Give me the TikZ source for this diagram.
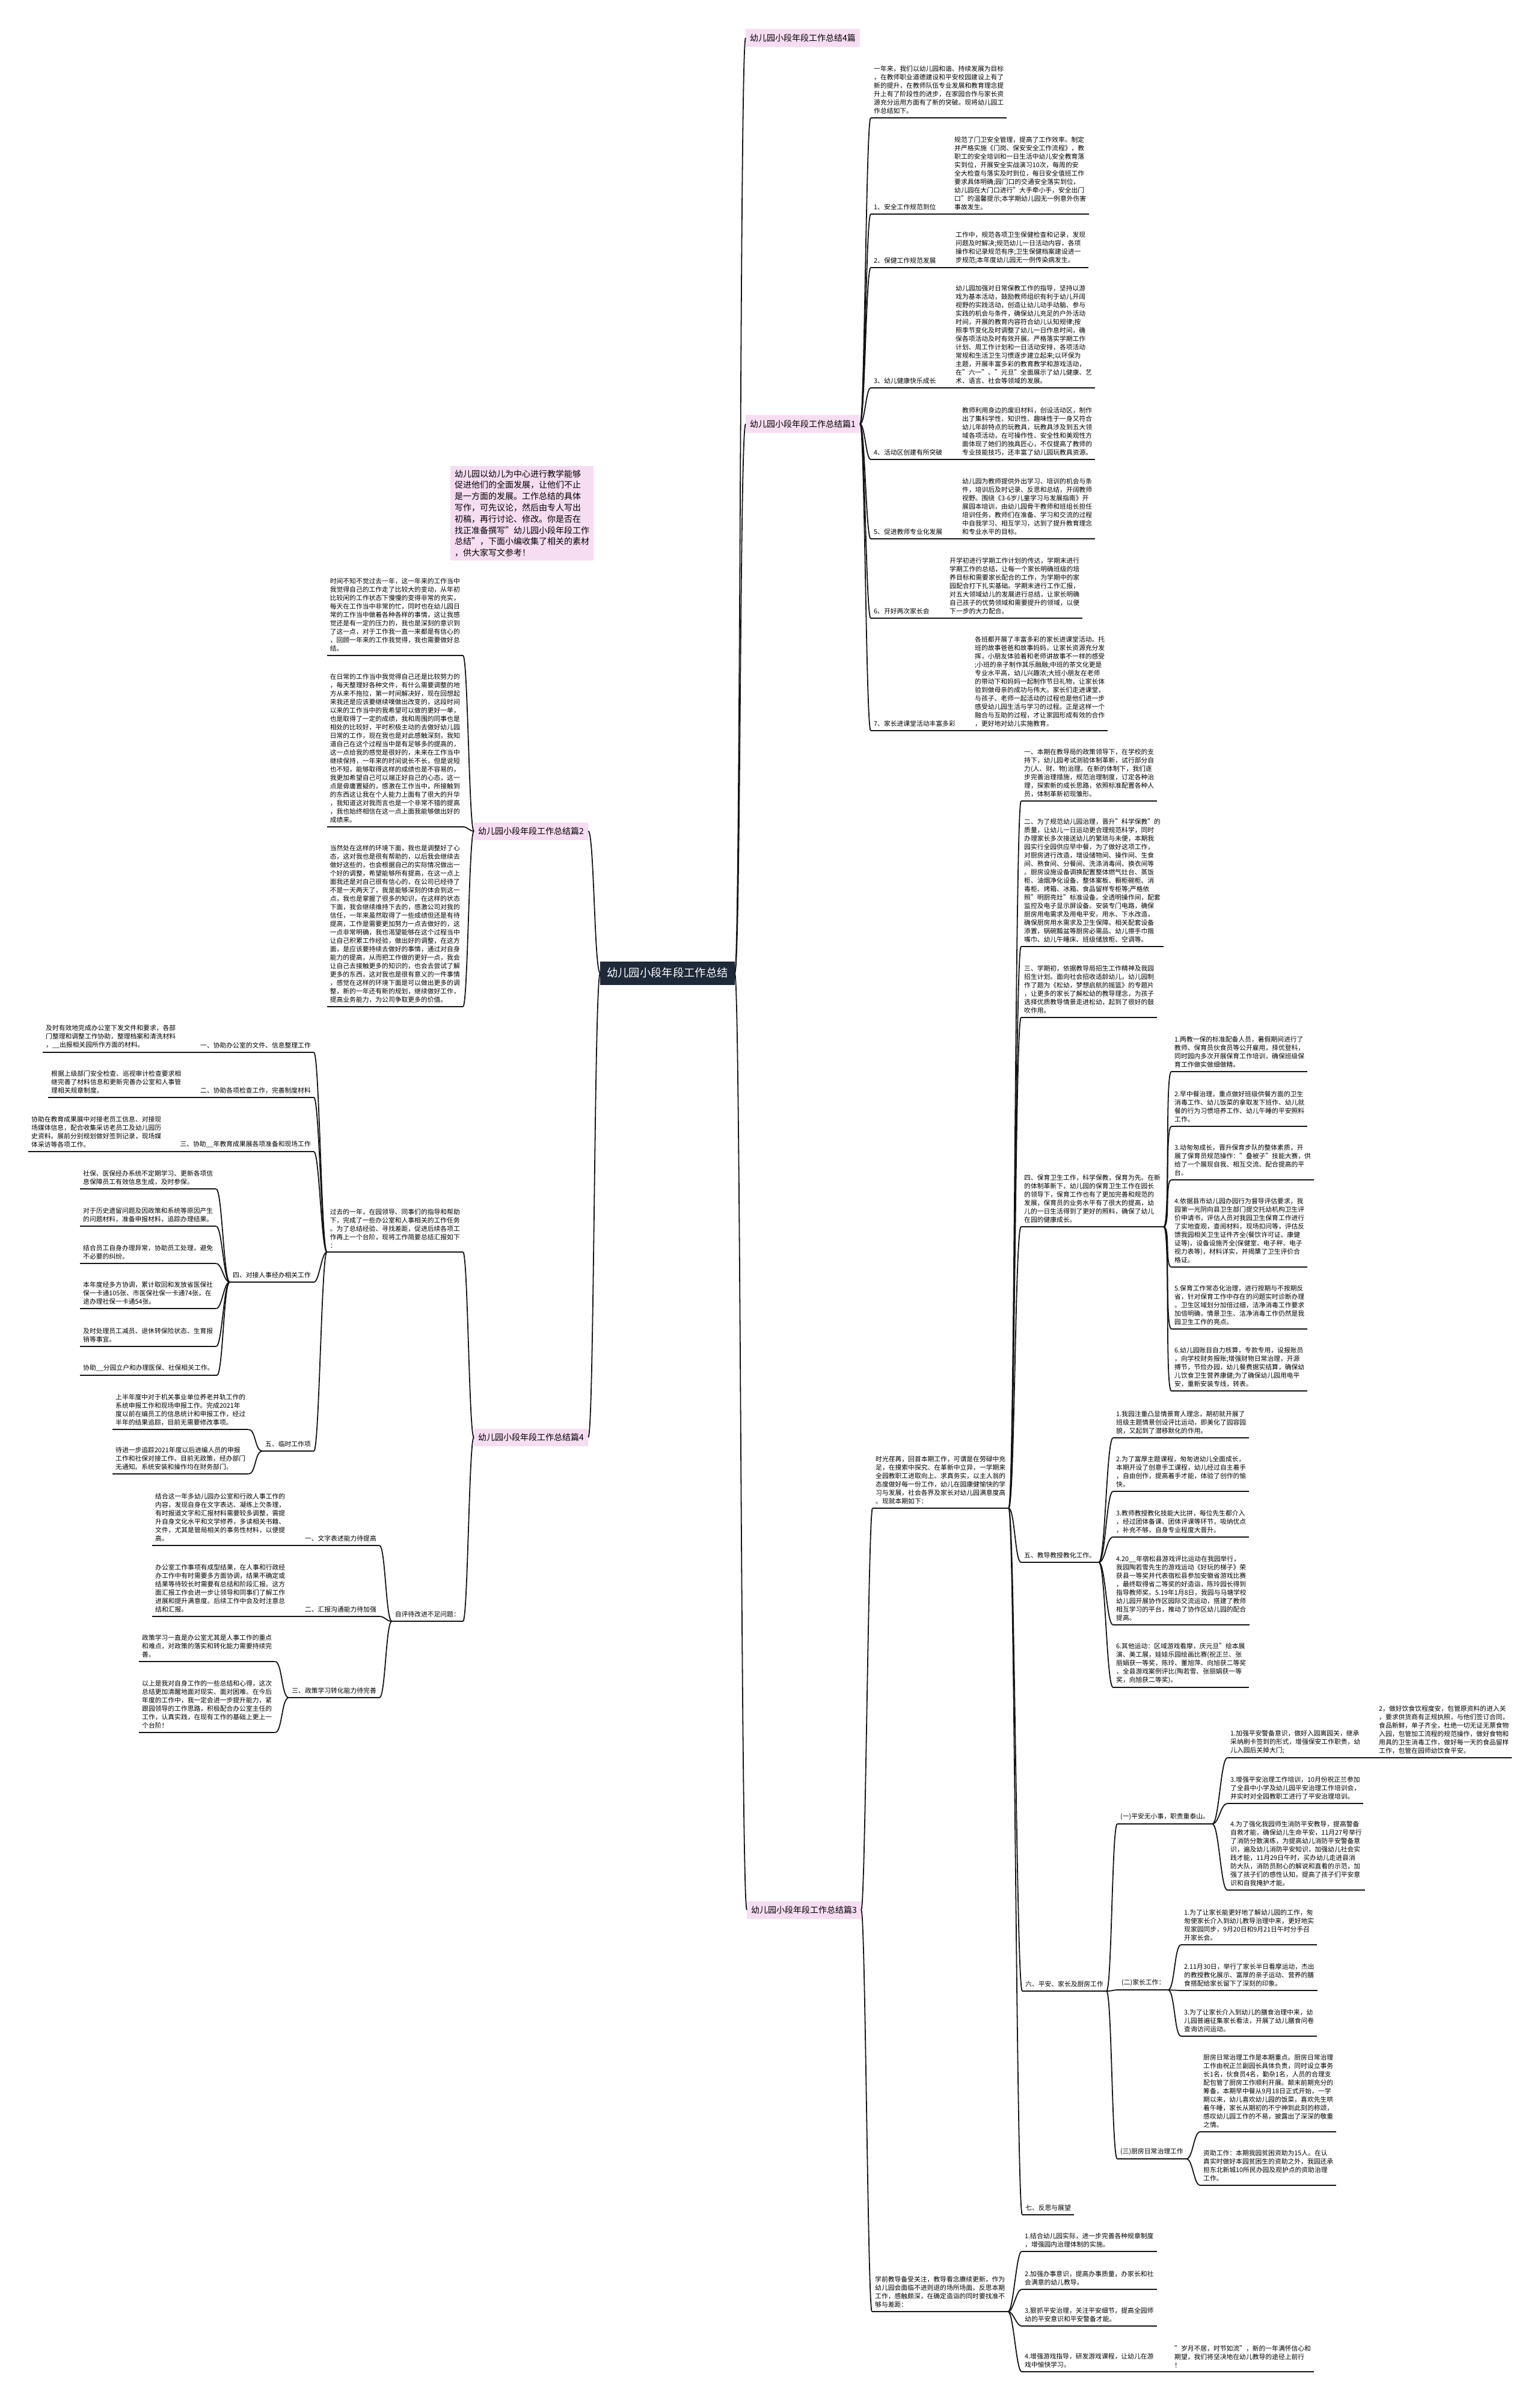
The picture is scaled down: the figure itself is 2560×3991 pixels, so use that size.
\documentclass[tikz,border=0pt]{standalone}
\usepackage{fontspec}
\setmainfont{Noto Sans CJK SC}
\usepackage{xcolor}
\usepackage{tikz}
\usetikzlibrary{positioning}
\definecolor{rootnavy}{RGB}{30,41,57}
\definecolor{branchpink}{RGB}{246,221,241}
\definecolor{wireblack}{RGB}{20,20,24}
\tikzset{
  rootbox/.style={rectangle, fill=rootnavy, text=white, font=\fontsize{18.3}{22}\selectfont, inner xsep=11pt, inner ysep=11pt},
  branchbox/.style={rectangle, fill=branchpink, font=\fontsize{14}{17}\selectfont, inner xsep=7pt, inner ysep=8pt},
  notebox/.style={rectangle, fill=branchpink, font=\fontsize{14}{18.8}\selectfont, align=left, inner xsep=7pt, inner ysep=6pt, anchor=north west},
  leaf/.style={font=\fontsize{10.8}{14}\selectfont, align=left, inner xsep=5pt, inner ysep=6.5pt, anchor=south west},
  leafl/.style={leaf, anchor=south east},
  wire/.style={draw=wireblack, line width=1.8pt}
}

\begin{document}
\begin{tikzpicture}[x=1pt, y=-1pt]
\fill[white] (0,0) rectangle (2560,3991);
\useasboundingbox (0,0) rectangle (2560,3991);

% root and the five branches
\node[rootbox] (root) at (1110,1618) {幼儿园小段年段工作总结};
\node[branchbox, anchor=west] (bq) at (1240,63) {幼儿园小段年段工作总结4篇};
\node[branchbox, anchor=west] (ba) at (1240,705) {幼儿园小段年段工作总结篇1};
\node[branchbox, anchor=west] (bc) at (1242,3176) {幼儿园小段年段工作总结篇3};
\node[branchbox, anchor=west] (bb) at (788,1382) {幼儿园小段年段工作总结篇2};
\node[branchbox, anchor=west] (bd) at (788,2390) {幼儿园小段年段工作总结篇4};

\node[notebox] (note) at (749,775) {幼儿园以幼儿为中心进行教学能够\\促进他们的全面发展，让他们不止\\是一方面的发展。工作总结的具体\\写作，可先议论，然后由专人写出\\初稿，再行讨论、修改。你是否在\\找正准备撰写"幼儿园小段年段工作\\总结"，下面小编收集了相关的素材\\，供大家写文参考！};

% ---- 篇1
\node[leaf] (a0) at (1448,196) {一年来，我们以幼儿园和谐、持续发展为目标\\，在教师职业道德建设和平安校园建设上有了\\新的提升，在教师队伍专业发展和教育理念提\\升上有了阶段性的进步，在家园合作与家长资\\源充分运用方面有了新的突破。现将幼儿园工\\作总结如下。};
\node[leaf] (a1l) at (1448,356) {1、安全工作规范到位};
\node[leaf] (a1) at (1582,356) {规范了门卫安全管理，提高了工作效率。制定\\并严格实施《门岗、保安安全工作流程》，教\\职工的安全培训和一日生活中幼儿安全教育落\\实到位，开展安全实战演习10次，每周的安\\全大检查与落实及时到位，每日安全值班工作\\要求具体明确;园门口的交通安全落实到位，\\幼儿园在大门口进行"大手牵小手，安全出门\\口"的温馨提示;本学期幼儿园无一例意外伤害\\事故发生。};
\node[leaf] (a2l) at (1448,445) {2、保健工作规范发展};
\node[leaf] (a2) at (1584,445) {工作中，规范各项卫生保健检查和记录，发现\\问题及时解决;规范幼儿一日活动内容，各项\\操作和记录规范有序;卫生保健档案建设进一\\步规范;本年度幼儿园无一例传染病发生。};
\node[leaf] (a3l) at (1448,645) {3、幼儿健康快乐成长};
\node[leaf] (a3) at (1584,645) {幼儿园加强对日常保教工作的指导，坚持以游\\戏为基本活动，鼓励教师组织有利于幼儿开阔\\视野的实践活动，创造让幼儿动手动脑、参与\\实践的机会与条件，确保幼儿充足的户外活动\\时间，开展的教育内容符合幼儿认知规律;按\\照季节变化及时调整了幼儿一日作息时间，确\\保各项活动及时有效开展。严格落实学期工作\\计划、周工作计划和一日活动安排，各项活动\\常规和生活卫生习惯逐步建立起来;以环保为\\主题，开展丰富多彩的教育教学和游戏活动，\\在"六一"、"元旦"全面展示了幼儿健康、艺\\术、语言、社会等领域的发展。};
\node[leaf] (a4l) at (1448,764) {4、活动区创建有所突破};
\node[leaf] (a4) at (1595,764) {教师利用身边的废旧材料，创设活动区，制作\\出了集科学性、知识性、趣味性于一身又符合\\幼儿年龄特点的玩教具，玩教具涉及到五大领\\域各项活动，在可操作性、安全性和美观性方\\面体现了她们的独具匠心，不仅提高了教师的\\专业技能技巧，还丰富了幼儿园玩教具资源。};
\node[leaf] (a5l) at (1448,896) {5、促进教师专业化发展};
\node[leaf] (a5) at (1595,896) {幼儿园为教师提供外出学习、培训的机会与条\\件，培训后及时记录、反思和总结，开阔教师\\视野。围绕《3-6岁儿童学习与发展指南》开\\展园本培训，由幼儿园骨干教师和班组长担任\\培训任务，教师们在准备、学习和交流的过程\\中自我学习、相互学习，达到了提升教育理念\\和专业水平的目标。};
\node[leaf] (a6l) at (1448,1028) {6、开好两次家长会};
\node[leaf] (a6) at (1574,1028) {开学初进行学期工作计划的传达，学期末进行\\学期工作的总结，让每一个家长明确班级的培\\养目标和需要家长配合的工作，为学期中的家\\园配合打下扎实基础。学期末进行工作汇报，\\对五大领域幼儿的发展进行总结，让家长明确\\自己孩子的优势领域和需要提升的领域，以便\\下一步的大力配合。};
\node[leaf] (a7l) at (1448,1215) {7、家长进课堂活动丰富多彩};
\node[leaf] (a7) at (1616,1215) {各班都开展了丰富多彩的家长进课堂活动。托\\班的故事爸爸和故事妈妈，让家长资源充分发\\挥，小朋友体验着和老师讲故事不一样的感受\\;小班的亲子制作其乐融融;中班的茶文化更是\\专业水平高，幼儿兴趣浓;大班小朋友在老师\\的带动下和妈妈一起制作节日礼物，让家长体\\验到做母亲的成功与伟大。家长们走进课堂，\\与孩子、老师一起活动的过程也是他们进一步\\感受幼儿园生活与学习的过程。正是这样一个\\融合与互助的过程，才让家园形成有效的合作\\，更好地对幼儿实施教育。};

% ---- 篇2
\node[leafl] (b1) at (770,1090) {时间不知不觉过去一年，这一年来的工作当中\\我觉得自己的工作走了比较大的变动，从年初\\比较闲的工作状态下慢慢的变得非常的充实，\\每天在工作当中非常的忙，同时也在幼儿园日\\常的工作当中做着各种各样的事情，这让我感\\觉还是有一定的压力的，我也是深刻的意识到\\了这一点，对于工作我一直一来都是有信心的\\，回顾一年来的工作我觉得，我也需要做好总\\结。};
\node[leafl] (b2) at (770,1375) {在日常的工作当中我觉得自己还是比较努力的\\，每天整理好各种文件，有什么需要调整的地\\方从来不拖拉，第一时间解决好，现在回想起\\来我还是应该要继续噗做出改变的，这段时间\\以来的工作当中的我希望可以做的更好一单，\\也是取得了一定的成绩，我和周围的同事也是\\相处的比较好，平时积极主动的去做好幼儿园\\日常的工作，现在我也是对此感触深刻，我知\\道自己在这个过程当中是有足够多的提高的，\\这一点给我的感觉是很好的，未来在工作当中\\继续保持，一年来的时间说长不长，但是说短\\也不短，能够取得这样的成绩也是不容易的，\\我更加希望自己可以端正好自己的心态，这一\\点是毋庸置疑的，感激在工作当中，所接触到\\的东西这让我在个人能力上面有了很大的升华\\，我知道这对我而言也是一个非常不错的提高\\，我也始终相信在这一点上面我能够做出好的\\成绩来。};
\node[leafl] (b3) at (770,1674) {当然处在这样的环境下面，我也是调整好了心\\态，这对我也是很有帮助的，以后我会继续去\\做好这些的，也会根据自己的实际情况做出一\\个好的调整，希望能够所有提高，在这一点上\\面我还是对自己很有信心的，在公司已经待了\\不是一天两天了，我是能够深刻的体会到这一\\点，我也是掌握了很多的知识，在这样的状态\\下面，我会继续维持下去的，感激公司对我的\\信任，一年来虽然取得了一些成绩但还是有待\\提高，工作是需要更加努力一点去做好的，这\\一点非常明确，我也渴望能够在这个过程当中\\让自己积累工作经验，做出好的调整，在这方\\面，是应该要持续去做好的事情，通过对自身\\能力的提高，从而把工作做的更好一点，我会\\让自己去接触更多的知识的，也会去尝试了解\\更多的东西，这对我也是很有意义的一件事情\\，感觉在这样的环境下面是可以做出更多的调\\整，新的一年还有新的规划，继续做好工作，\\提高业务能力，为公司争取更多的价值。};

% ---- 篇4
\node[leafl] (d0) at (770,2082) {过去的一年，在园领导、同事们的指导和帮助\\下，完成了一些办公室和人事相关的工作任务\\。为了总结经验、寻找差距，促进后续各项工\\作再上一个台阶，现将工作简要总结汇报如下\\：};
\node[leafl] (d1l) at (522,1750) {一、协助办公室的文件、信息整理工作};
\node[leaf] (d1) at (71,1750) {及时有效地完成办公室下发文件和要求，各部\\门整理和调整工作协助，整理档案和清洗材料\\，\_\_出报相关园所作方面的材料。};
\node[leafl] (d2l) at (522,1825) {二、协助各项检查工作，完善制度材料};
\node[leaf] (d2) at (80,1825) {根据上级部门安全检查、巡视审计检查要求相\\继完善了材料信息和更新完善办公室和人事管\\理相关规章制度。};
\node[leafl] (d3l) at (522,1915) {三、协助\_\_年教育成果展各项准备和现场工作};
\node[leaf] (d3) at (47,1915) {协助在教育成果展中对接老员工信息、对接现\\场媒体信息，配合收集采访老员工及幼儿园历\\史资料。展前分别规划做好签到记录，现场媒\\体采访等各项工作。};
\node[leafl] (d4l) at (522,2132) {四、对接人事经办相关工作};
\node[leaf] (d4a) at (133,1977) {社保、医保经办系统不定期学习、更新各项信\\息保障员工有效信息生成，及时参保。};
\node[leaf] (d4b) at (133,2039) {对于历史遗留问题及因政策和系统等原因产生\\的问题材料，准备申报材料，追踪办理结果。};
\node[leaf] (d4c) at (133,2101) {结合员工自身办理异常，协助员工处理，避免\\不必要的纠纷。};
\node[leaf] (d4d) at (133,2176) {本年度经多方协调，累计取回和发放省医保社\\保一卡通105张、市医保社保一卡通74张，在\\途办理社保一卡通54张。};
\node[leaf] (d4e) at (133,2239) {及时处理员工减员、退休转保险状态、生育报\\销等事宜。};
\node[leaf] (d4f) at (133,2287) {协助\_\_分园立户和办理医保、社保相关工作。};
\node[leafl] (d5l) at (522,2413) {五、临时工作项};
\node[leaf] (d5a) at (187,2377) {上半年度中对于机关事业单位养老并轨工作的\\系统申报工作和现场申报工作。完成2021年\\度以前在编员工的信息统计和申报工作，经过\\半年的结果追踪，目前无需要修改事项。};
\node[leaf] (d5b) at (187,2451) {待进一步追踪2021年度以后进编人员的申报\\工作和社保对接工作。目前无政策，经办部门\\无通知。系统安装和操作均在财务部门。};
\node[leafl] (dq) at (770,2696) {自评待改进不足问题：};
\node[leafl] (dq1l) at (631,2570) {一、文字表述能力待提高};
\node[leaf] (dq1) at (253,2570) {结合这一年多幼儿园办公室和行政人事工作的\\内容，发现自身在文字表达、凝练上欠条理，\\有时报道文字和汇报材料需要较多调整，需提\\升自身文化水平和文学修养，多读相关书籍、\\文件，尤其是管局相关的事务性材料，以便提\\高。};
\node[leafl] (dq2l) at (631,2688) {二、汇报沟通能力待加强};
\node[leaf] (dq2) at (253,2688) {办公室工作事项有成型结果，在人事和行政经\\办工作中有时需要多方面协调，结果不确定或\\结果等待较长时需要有总结和阶段汇报。这方\\面汇报工作会进一步让领导和同事们了解工作\\进展和提升满意度。后续工作中会及时注意总\\结和汇报。};
\node[leafl] (dq3l) at (631,2823) {三、政策学习转化能力待完善};
\node[leaf] (dq3a) at (231,2763) {政策学习一直是办公室尤其是人事工作的重点\\和难点，对政策的落实和转化能力需要持续完\\善。};
\node[leaf] (dq3b) at (231,2881) {以上是我对自身工作的一些总结和心得，这次\\总结更加清醒地面对现实、面对困难。在今后\\年度的工作中，我一定会进一步提升能力，紧\\跟园领导的工作思路，积极配合办公室主任的\\工作，认真实践，在现有工作的基础上更上一\\个台阶！};

% ---- 篇3
\node[leaf] (c0) at (1451,2508) {时光荏苒，回首本期工作，可谓是在劳碌中充\\足，在摸索中探究、在革新中立异，一学期来\\全园教职工进取向上、求真务实，以主人翁的\\态度做好每一份工作，幼儿在园康健愉快的学\\习与发展，社会各界及家长对幼儿园满意度高\\。现就本期如下：};
\node[leaf] (c1) at (1698,1332) {一、本期在教导局的政策领导下，在学校的支\\持下，幼儿园考试测验体制革新，试行部分自\\力(人、财、物)治理。在新的体制下，我们逐\\步完善治理措施，规范治理制度，订定各种治\\理，探索新的成长思路，依照标准配置各种人\\员，体制革新初现雏形。};
\node[leaf] (c2) at (1698,1574) {二、为了规范幼儿园治理，晋升"科学保教"的\\质量，让幼儿一日运动更合理规范科学，同时\\办理家长多次接送幼儿的繁琐与未便，本期我\\园实行全园供应早中餐，为了做好这项工作，\\对厨房进行改造，增设储物间、操作间、生食\\间、熟食间、分餐间、洗涤消毒间、换衣间等\\。厨房设施设备调换配置整体燃气灶台、蒸饭\\柜、油烟净化设备、整体案板、橱柜碗柜、消\\毒柜、烤箱、冰箱、食品留样专柜等;严格依\\照"明厨亮灶"标准设备。全透明操作间，配套\\监控及电子显示屏设备。安装专门电路，确保\\厨房用电需求及用电平安。用水、下水改造，\\确保厨房用水需求及卫生保障。相关配套设备\\添置，锅碗瓢盆等厨房必需品、幼儿擦手巾揩\\嘴巾、幼儿午睡床、班级储放柜、空调等。};
\node[leaf] (c3) at (1698,1692) {三、学期初，依据教导局招生工作精神及我园\\招生计划。面向社会招收适龄幼儿，幼儿园制\\作了题为《松幼，梦想启航的摇篮》的专题片\\，让更多的家长了解松幼的教导理念，为孩子\\选择优质教导情景走进松幼，起到了很好的鼓\\吹作用。};
\node[leaf] (c4) at (1698,2040) {四、保育卫生工作，科学保教，保育为先。在新\\的体制革新下，幼儿园的保育卫生工作在园长\\的领导下，保育工作也有了更加完善和规范的\\发展，保育员的业务水平有了很大的提高，幼\\儿的一日生活得到了更好的照料，确保了幼儿\\在园的健康成长。};
\node[leaf] (c4a) at (1948,1782) {1.两教一保的标准配备人员，暑假期间进行了\\教师、保育员伙食员等公开雇用，择优登科，\\同时园内多次开展保育工作培训，确保班级保\\育工作做实做细做精。};
\node[leaf] (c4b) at (1948,1873) {2.早中餐治理，重点做好班级供餐方面的卫生\\消毒工作、幼儿饭菜的拿取发下班作、幼儿就\\餐的行为习惯培养工作、幼儿午睡的平安照料\\工作。};
\node[leaf] (c4c) at (1948,1962) {3.动匆匆成长，晋升保育步队的整体素质，开\\展了保育员规范操作："叠被子"技能大赛，供\\给了一个展现自我、相互交流、配合提高的平\\台。};
\node[leaf] (c4d) at (1948,2107) {4.依据县市幼儿园办园行为督导评估要求，我\\园第一光阴向县卫生部门提交托幼机构卫生评\\价申请书，评估人员对我园卫生保育工作进行\\了实地查观，查阅材料，现场扣问等，评估反\\馈我园相关卫生证件齐全(餐饮许可证、康健\\证等)，设备设施齐全(保健室、电子秤、电子\\视力表等)，材料详实，并揭橥了卫生评价合\\格证。};
\node[leaf] (c4e) at (1948,2210) {5.保育工作常态化治理，进行按期与不按期反\\省，针对保育工作中存在的问题实时诊断办理\\。卫生区域划分加倍过细，洁净消毒工作要求\\加倍明确，情景卫生、洁净消毒工作仍然是我\\园卫生工作的亮点。};
\node[leaf] (c4f) at (1948,2313) {6.幼儿园账目自力核算，专款专用，设报账员\\，向学校财务报账;增强财物日常治理，开源\\搏节，节俭办园，幼儿餐费据实结算，确保幼\\儿饮食卫生营养康健;为了确保幼儿园用电平\\安，重新安装专线，转表。};
\node[leaf] (c5l) at (1698,2598) {五、教导教授教化工作。};
\node[leaf] (c5a) at (1851,2391) {1.我园注重凸显情景育人理念，期初就开展了\\班级主题情景创设评比运动，即美化了园容园\\貌，又起到了潜移默化的作用。};
\node[leaf] (c5b) at (1851,2480) {2.为了富厚主题课程，匆匆进幼儿全面成长，\\本期开设了创意手工课程，幼儿经过自主着手\\，自由创作，提高着手才能，体验了创作的愉\\快。};
\node[leaf] (c5c) at (1851,2556) {3.教师教授教化技能大比拼，每位先生都介入\\，经过团体备课、团体评课等环节，吸纳优点\\，补充不够，自身专业程度大晋升。};
\node[leaf] (c5d) at (1851,2702) {4.20\_\_年宿松县游戏评比运动在我园举行，\\我园陶若雪先生的游戏运动《好玩的梯子》荣\\获县一等奖并代表宿松县参加安徽省游戏比赛\\，最终取得省二等奖的好造诣，陈玲园长得到\\指导教师奖。5.19年1月8日，我园与马塘学校\\幼儿园开展协作区园际交流运动，搭建了教师\\相互学习的平台，推动了协作区幼儿园的配合\\提高。};
\node[leaf] (c5e) at (1851,2806) {6.其他运动：区域游戏看摩，庆元旦"绘本展\\演、美工展，娃娃乐园绘画比赛(祝正兰、张\\丽娟获一等奖，陈玲、董旭萍、向旭获二等奖\\，全县游戏案例评比(陶若雪、张丽娟获一等\\奖，向旭获二等奖)。};
\node[leaf] (c6l) at (1700,3311) {六、平安、家长及厨房工作};
\node[leaf] (c61l) at (1858,3033) {(一)平安无小事，职责重泰山。};
\node[leaf] (c61a) at (2041,2923) {1.加强平安警备意识，做好入园离园关，继承\\采纳刷卡签到的形式，增强保安工作职责，幼\\儿入园后关掉大门;};
\node[leaf] (c61x) at (2288,2923) {2，做好饮食饮程度安，包管原资料的进入关\\，要求供货商有正规执照，与他们签订合同，\\食品新鲜，单子齐全，杜绝一切无证无票食物\\入园，包管加工流程的规范操作，做好食物和\\用具的卫生消毒工作，做好每一天的食品留样\\工作，包管在园师幼饮食平安。};
\node[leaf] (c61b) at (2041,2999) {3.增强平安治理工作培训，10月份祝正兰参加\\了全县中小学及幼儿园平安治理工作培训会，\\并实时对全园教职工进行了平安治理培训。};
\node[leaf] (c61c) at (2041,3143) {4.为了强化我园师生消防平安教导，提高警备\\自救才能，确保幼儿生命平安，11月27号举行\\了消防分散演练，为提高幼儿消防平安警备意\\识，遍及幼儿消防平安知识，加强幼儿社会实\\践才能，11月29日午时，买办幼儿走进县消\\防大队，消防员耐心的解说和直看的示范，加\\强了孩子们的感性认知，提高了孩子们平安意\\识和自我掩护才能。};
\node[leaf] (c62l) at (1860,3309) {(二)家长工作：};
\node[leaf] (c62a) at (1964,3234) {1.为了让家长能更好地了解幼儿园的工作，匆\\匆使家长介入到幼儿教导治理中来，更好地实\\现家园同步，9月20日和9月21日午时分手召\\开家长会。};
\node[leaf] (c62b) at (1964,3310) {2.11月30日，举行了家长半日看摩运动，杰出\\的教授教化展示、富厚的亲子运动、营养的膳\\食搭配给家长留下了深刻的印象。};
\node[leaf] (c62c) at (1964,3386) {3.为了让家长介入到幼儿的膳食治理中来，幼\\儿园普遍征集家长看法，开展了幼儿膳食问卷\\查询访问运动。};
\node[leaf] (c63l) at (1858,3590) {(三)厨房日常治理工作};
\node[leaf] (c63a) at (1996,3545) {厨房日常治理工作是本期重点。厨房日常治理\\工作由祝正兰副园长具体负责，同时设立事务\\长1名，伙食员4名，勤杂1名，人员的合理支\\配包管了厨房工作顺利开展。颠末前期充分的\\筹备，本期早中餐从9月18日正式开始，一学\\期以来，幼儿喜欢幼儿园的饭菜，喜欢先生哄\\着午睡，家长从期初的不宁神到此刻的称颂，\\感叹幼儿园工作的不易，披露出了深深的敬重\\之情。};
\node[leaf] (c63b) at (1996,3634) {资助工作：本期我园贫困资助为15人。在认\\真实时做好本园贫困生的资助之外，我园还承\\担东北新城10所民办园及观护点的资助治理\\工作。};
\node[leaf] (c7l) at (1700,3683) {七、反思与展望};
\node[leaf] (cz) at (1450,3844) {学前教导备受关注，教导看念赓续更新，作为\\幼儿园会面临不进则退的场所场面，反思本期\\工作，感触颇深，在确定造诣的同时要找准不\\够与差距：};
\node[leaf] (cz1) at (1699,3744) {1.结合幼儿园实际，进一步完善各种规章制度\\，增强园内治理体制的实施。};
\node[leaf] (cz2) at (1699,3807) {2.加强办事意识，提高办事质量，办家长和社\\会满意的幼儿教导。};
\node[leaf] (cz3) at (1699,3868) {3.狠抓平安治理，关注平安细节，提高全园师\\幼的平安意识和平安警备才能。};
\node[leaf] (cz4) at (1699,3944) {4.增强游戏指导，研发游戏课程，让幼儿在游\\戏中愉快学习。};
\node[leaf] (cz4x) at (1948,3944) {"岁月不居，时节如流"，新的一年满怀信心和\\期望，我们将坚决地在幼儿教导的途径上前行\\！};

% underlines
\foreach \n in {a0,a1l,a1,a2l,a2,a3l,a3,a4l,a4,a5l,a5,a6l,a6,a7l,a7,
  b1,b2,b3,d0,d1l,d1,d2l,d2,d3l,d3,d4l,d4a,d4b,d4c,d4d,d4e,d4f,d5l,d5a,d5b,
  dq,dq1l,dq1,dq2l,dq2,dq3l,dq3a,dq3b,
  c0,c1,c2,c3,c4,c4a,c4b,c4c,c4d,c4e,c4f,c5l,c5a,c5b,c5c,c5d,c5e,
  c6l,c61l,c61a,c61x,c61b,c61c,c62l,c62a,c62b,c62c,c63l,c63a,c63b,c7l,
  cz,cz1,cz2,cz3,cz4,cz4x}
  \draw[wire] (\n.south west) -- (\n.south east);

% root to branches
\foreach \b in {bq,ba,bc}
  \draw[wire] (root.east) .. controls +(10,0) and +(-10,0) .. (\b.west);
\foreach \b in {bb,bd}
  \draw[wire] (root.west) .. controls +(-10,0) and +(10,0) .. (\b.east);

% branch 1
\foreach \c in {a0,a1l,a2l,a3l,a4l,a5l,a6l,a7l}
  \draw[wire] (ba.east) .. controls +(8,0) and +(-8,0) .. (\c.south west);
\foreach \c in {a1,a2,a3,a4,a5,a6,a7}
  \draw[wire] (\c l.south east) -- (\c.south west);

% branch 2
\foreach \c in {b1,b2,b3}
  \draw[wire] (bb.west) .. controls +(-8,0) and +(8,0) .. (\c.south east);

% branch 4
\foreach \c in {d0,dq}
  \draw[wire] (bd.west) .. controls +(-8,0) and +(8,0) .. (\c.south east);
\foreach \c in {d1l,d2l,d3l,d4l,d5l}
  \draw[wire] (d0.south west) .. controls +(-9,0) and +(9,0) .. (\c.south east);
\foreach \c in {d1,d2,d3}
  \draw[wire] (\c l.south west) -- (\c.south east);
\foreach \c in {d4a,d4b,d4c,d4d,d4e,d4f}
  \draw[wire] (d4l.south west) .. controls +(-10,0) and +(10,0) .. (\c.south east);
\foreach \c in {d5a,d5b}
  \draw[wire] (d5l.south west) .. controls +(-12,0) and +(12,0) .. (\c.south east);
\foreach \c in {dq1l,dq2l,dq3l}
  \draw[wire] (dq.south west) .. controls +(-10,0) and +(10,0) .. (\c.south east);
\foreach \c in {dq1,dq2}
  \draw[wire] (\c l.south west) -- (\c.south east);
\foreach \c in {dq3a,dq3b}
  \draw[wire] (dq3l.south west) .. controls +(-12,0) and +(12,0) .. (\c.south east);

% branch 3
\foreach \c in {c0,cz}
  \draw[wire] (bc.east) .. controls +(7,0) and +(-7,0) .. (\c.south west);
\foreach \c in {c1,c2,c3,c4,c5l,c6l,c7l}
  \draw[wire] (c0.south east) .. controls +(10,0) and +(-10,0) .. (\c.south west);
\foreach \c in {c4a,c4b,c4c,c4d,c4e,c4f}
  \draw[wire] (c4.south east) .. controls +(11,0) and +(-11,0) .. (\c.south west);
\foreach \c in {c5a,c5b,c5c,c5d,c5e}
  \draw[wire] (c5l.south east) .. controls +(11,0) and +(-11,0) .. (\c.south west);
\foreach \c in {c61l,c62l,c63l}
  \draw[wire] (c6l.south east) .. controls +(9,0) and +(-9,0) .. (\c.south west);
\foreach \c in {c61a,c61b,c61c}
  \draw[wire] (c61l.south east) .. controls +(11,0) and +(-11,0) .. (\c.south west);
\draw[wire] (c61a.south east) -- (c61x.south west);
\foreach \c in {c62a,c62b,c62c}
  \draw[wire] (c62l.south east) .. controls +(11,0) and +(-11,0) .. (\c.south west);
\foreach \c in {c63a,c63b}
  \draw[wire] (c63l.south east) .. controls +(11,0) and +(-11,0) .. (\c.south west);
\foreach \c in {cz1,cz2,cz3,cz4}
  \draw[wire] (cz.south east) .. controls +(9,0) and +(-9,0) .. (\c.south west);
\draw[wire] (cz4.south east) -- (cz4x.south west);
\end{tikzpicture}
\end{document}
